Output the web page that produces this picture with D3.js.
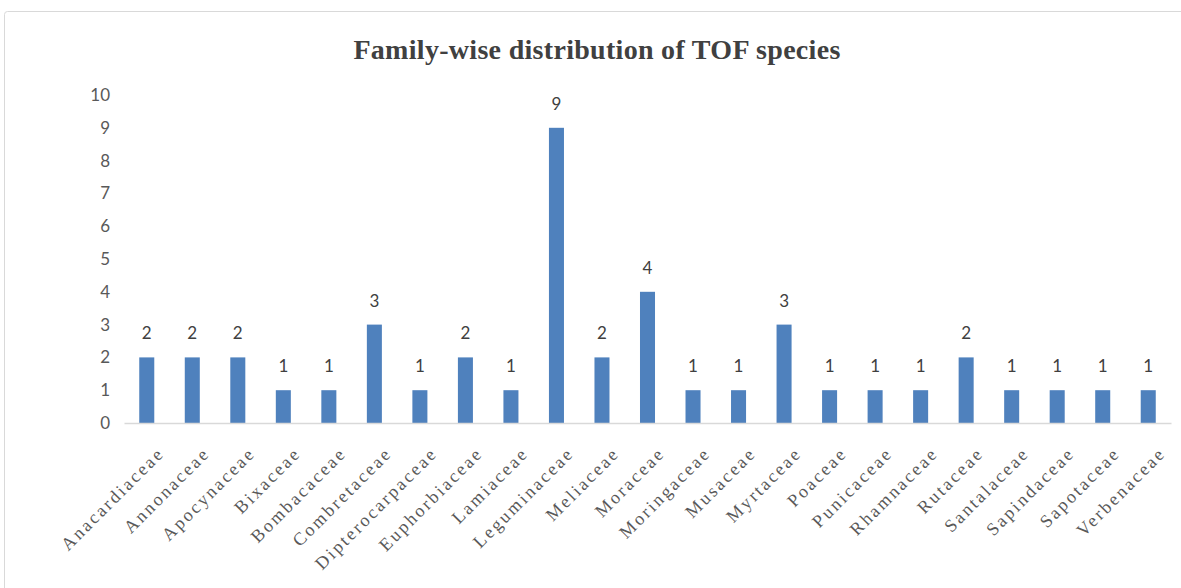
<!DOCTYPE html>
<html lang="en">
  <head>
    <meta charset="UTF-8" />
    <title>Family-wise distribution of TOF species</title>
    <style>
      body {
        margin: 0;
        padding: 0;
        background-color: #ffffff;
      }
      #chart {
        width: 1181px;
        height: 588px;
      }
    </style>
  </head>
  <body>
    <div id="chart"></div>

    <script src="https://d3js.org/d3.v7.min.js"></script>
    <script>
      const families = [
        "Anacardiaceae", "Annonaceae", "Apocynaceae", "Bixaceae", "Bombacaceae",
        "Combretaceae", "Dipterocarpaceae", "Euphorbiaceae", "Lamiaceae",
        "Leguminaceae", "Meliaceae", "Moraceae", "Moringaceae", "Musaceae",
        "Myrtaceae", "Poaceae", "Punicaceae", "Rhamnaceae", "Rutaceae",
        "Santalaceae", "Sapindaceae", "Sapotaceae", "Verbenaceae"
      ];
      const speciesCount = [2, 2, 2, 1, 1, 3, 1, 2, 1, 9, 2, 4, 1, 1, 3, 1, 1, 1, 2, 1, 1, 1, 1];
      const yTicks = [0, 1, 2, 3, 4, 5, 6, 7, 8, 9, 10];

      const width = 1181,
        height = 588;

      const svg = d3
        .select("#chart")
        .append("svg")
        .attr("width", width)
        .attr("height", height);

      // chart frame
      svg
        .append("rect")
        .attr("x", 4.5)
        .attr("y", 11.5)
        .attr("width", 1200)
        .attr("height", 600)
        .attr("rx", 3)
        .style("fill", "#fff")
        .style("stroke", "#d9d9d9");

      svg
        .append("text")
        .attr("x", 597)
        .attr("y", 59)
        .attr("text-anchor", "middle")
        .style("font-family", "'Liberation Serif', serif")
        .style("font-weight", "bold")
        .style("font-size", "28px")
        .style("letter-spacing", "0.3px")
        .style("fill", "#404040")
        .text("Family-wise distribution of TOF species");

      const x = d3
        .scaleBand()
        .domain(families)
        .range([124, 1171])
        .paddingInner(0.67)
        .paddingOuter(0.335);

      const y = d3.scaleLinear().domain([0, 10]).range([423, 95]);

      // y tick labels (no axis line)
      svg
        .selectAll("text.ytick")
        .data(yTicks)
        .enter()
        .append("text")
        .attr("class", "ytick")
        .attr("x", 110)
        .attr("y", (d) => y(d) + 6)
        .attr("text-anchor", "end")
        .style("font-family", "Lato, sans-serif")
        .style("font-size", "17px")
        .style("fill", "#595959")
        .text((d) => d);

      svg
        .selectAll("rect.bar")
        .data(speciesCount)
        .enter()
        .append("rect")
        .attr("class", "bar")
        .attr("x", (d, i) => x(families[i]))
        .attr("y", (d) => y(d))
        .attr("width", x.bandwidth())
        .attr("height", (d) => y(0) - y(d))
        .style("fill", "#4f81bd");

      svg
        .selectAll("text.value")
        .data(speciesCount)
        .enter()
        .append("text")
        .attr("class", "value")
        .attr("x", (d, i) => x(families[i]) + x.bandwidth() / 2)
        .attr("y", (d) => y(d) - 18)
        .attr("text-anchor", "middle")
        .style("font-family", "Lato, sans-serif")
        .style("font-size", "17px")
        .style("fill", "#404040")
        .text((d) => d);

      // x axis
      const xAxis = d3.axisBottom(x).tickSize(0).tickPadding(0);
      const gx = svg
        .append("g")
        .attr("transform", `translate(0,${y(0)})`)
        .call(xAxis);
      gx.select(".domain").attr("stroke", "#d9d9d9").attr("stroke-width", 1.5);
      gx.selectAll(".tick text")
        .attr("transform", "translate(14,27) rotate(-45)")
        .attr("text-anchor", "end")
        .attr("dy", "0.35em")
        .attr("y", 0)
        .style("font-family", "'Liberation Serif', serif")
        .style("font-size", "18px")
        .style("letter-spacing", "2.4px")
        .style("fill", "#595959");
    </script>
  </body>
</html>
